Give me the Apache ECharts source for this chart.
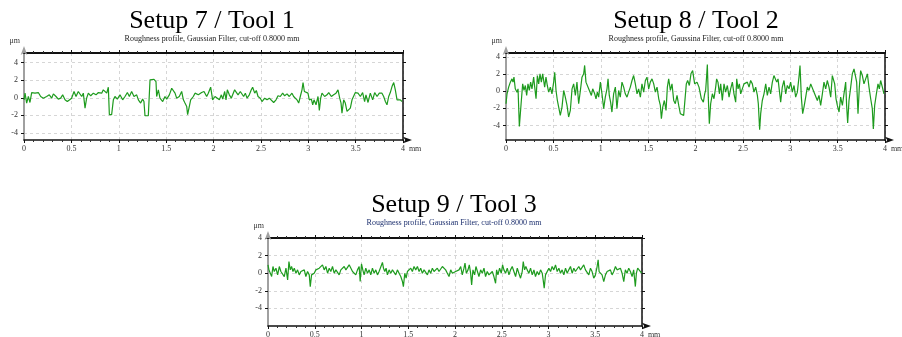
<!DOCTYPE html>
<html>
<head>
<meta charset="utf-8">
<script src="https://cdn.jsdelivr.net/npm/echarts@6/dist/echarts.min.js"></script>
<style>
html,body{margin:0;padding:0;background:#fff}
#main{width:902px;height:337px}
</style>
</head>
<body>
<div id="main"></div>
<script>
// profile 1 (Setup 7 / Tool 1), x in mm, y in um
var x1 = [0,0.011,0.028,0.046,0.063,0.081,0.116,0.151,0.176,0.204,0.239,0.267,0.292,0.310,0.338,0.362,0.387,0.408,0.433,0.457,0.478,0.503,0.528,0.549,0.573,0.591,0.609,0.626,0.644,0.661,0.679,0.704,0.732,0.760,0.785,0.820,0.837,0.855,0.873,0.890,0.901,0.925,0.943,0.960,0.985,1.013,1.041,1.066,1.091,1.112,1.136,1.161,1.189,1.207,1.231,1.252,1.266,1.277,1.312,1.330,1.347,1.372,1.393,1.400,1.418,1.435,1.464,1.488,1.506,1.534,1.559,1.576,1.594,1.611,1.639,1.664,1.682,1.699,1.717,1.727,1.745,1.759,1.787,1.805,1.840,1.875,1.900,1.928,1.945,1.970,1.991,2.016,
  2.037,2.062,2.083,2.097,2.118,2.132,2.146,2.167,2.188,2.202,2.223,2.237,2.259,2.283,2.301,2.318,2.336,2.354,2.378,2.399,2.413,2.435,2.452,2.470,2.494,2.512,2.540,2.565,2.589,2.610,2.635,2.660,2.681,2.705,2.730,2.751,2.776,2.800,2.828,2.846,2.864,2.881,2.899,2.916,2.934,2.945,2.959,2.976,2.997,3.011,3.033,3.047,3.061,3.082,3.103,3.117,3.131,3.145,3.173,3.198,3.216,3.244,3.268,3.293,3.314,3.332,3.346,3.356,3.374,3.391,3.409,3.427,3.444,3.462,3.479,3.497,3.525,3.550,3.574,3.595,3.609,3.631,3.655,3.680,3.701,3.726,3.750,3.778,3.796,3.814,3.831,3.849,3.866,3.884,3.902,3.919,3.937,3.954,3.972,3.989];
var y1 = [-0.23,0.53,-0.60,0.15,-0.53,0.60,0.53,0.60,0.15,-0.04,0.15,0.34,-0.04,0.45,0.15,-0.15,-0.04,0.34,-0.23,-0.42,-0.60,-0.04,0.72,0.15,0.72,0.53,0.15,0.53,-1.17,-0.04,0.53,0.23,0.53,0.34,0.60,0.53,0.91,1.09,0.53,1.21,-1.92,-1.92,-0.23,0.15,-0.15,0.34,-0.23,0.15,0.60,0.15,0.72,0.15,0.34,-0.23,-0.60,-0.15,-0.42,-2.04,-2.04,2.04,2.23,2.11,1.85,0.15,0.91,-0.04,-0.42,0.15,-0.15,0.34,1.09,1.28,0.53,-0.04,0.15,0.72,-0.23,-0.60,-0.98,-1.92,-0.98,-0.23,0.15,0.53,0.34,0.60,0.72,0.15,0.53,1.21,-0.23,0.15,
  0.15,-0.23,0.34,-0.15,0.72,-0.23,0.91,0.34,-0.04,0.15,0.91,1.09,0.34,0.72,0.53,0.15,0.53,-0.04,0.34,0.91,1.21,0.53,0.83,0.15,-0.04,-0.42,-0.04,-0.23,-0.04,-0.23,-0.53,-0.23,0.23,0.15,0.53,0.23,0.45,0.15,0.53,0.15,0.34,-0.23,-0.60,0.15,0.91,1.74,0.72,0.53,0.53,-0.23,-0.15,-0.79,-0.23,-0.79,0.15,-1.43,-0.04,0.53,0.15,0.34,0.60,0.15,0.34,0.53,0.91,-0.04,-0.60,-1.74,-0.23,-0.60,-1.55,-1.55,-1.17,-0.23,-0.04,0.60,0.53,0.15,0.60,-0.42,0.34,-0.53,0.53,-0.23,0.60,0.15,0.53,0.53,0.15,-0.42,-0.79,0.15,0.60,1.28,1.74,0.91,-0.23,-0.42,-0.23,-0.42];

// profile 2 (Setup 8 / Tool 2)
var x2 = [0,0.011,0.028,0.046,0.063,0.074,0.084,0.098,0.116,0.127,0.141,0.162,0.176,0.190,0.204,0.218,0.232,0.246,0.260,0.274,0.292,0.303,0.317,0.331,0.345,0.359,0.373,0.387,0.408,0.422,0.436,0.450,0.468,0.485,0.503,0.514,0.528,0.542,0.556,0.573,0.591,0.609,0.626,0.644,0.661,0.679,0.697,0.714,0.732,0.749,0.767,0.785,0.802,0.820,0.830,0.844,0.865,0.880,0.901,0.915,0.936,0.950,0.964,0.978,0.996,1.013,1.031,1.048,1.066,1.077,1.090,1.104,1.118,1.136,1.154,1.171,1.189,1.206,1.224,1.242,1.259,1.277,1.294,1.312,1.330,1.347,1.365,1.383,1.400,1.418,1.435,1.453,1.471,1.488,1.506,1.523,1.541,1.559,1.576,1.594,1.612,1.629,1.640,1.654,1.671,1.689,1.703,1.717,1.735,1.752,1.770,1.787,1.805,1.823,1.840,1.857,1.875,1.893,1.903,1.917,1.935,1.952,1.970,1.991,2.016,
  2.037,2.062,2.083,2.097,2.107,2.118,2.125,2.135,2.146,2.160,2.178,2.195,2.213,2.223,2.237,2.252,2.266,2.283,2.301,2.318,2.336,2.354,2.371,2.389,2.406,2.424,2.435,2.449,2.463,2.477,2.494,2.512,2.530,2.547,2.565,2.582,2.600,2.617,2.635,2.653,2.663,2.677,2.688,2.705,2.723,2.741,2.758,2.776,2.793,2.811,2.828,2.846,2.857,2.871,2.885,2.899,2.916,2.934,2.952,2.969,2.987,3.004,3.022,3.040,3.057,3.075,3.092,3.103,3.117,3.131,3.145,3.163,3.180,3.198,3.216,3.233,3.251,3.268,3.286,3.303,3.321,3.339,3.356,3.374,3.391,3.409,3.427,3.444,3.455,3.469,3.483,3.497,3.515,3.532,3.550,3.567,3.585,3.595,3.606,3.620,3.638,3.655,3.673,3.690,3.701,3.715,3.729,3.743,3.761,3.778,3.796,3.814,3.831,3.849,3.866,3.877,3.891,3.909,3.926,3.940,3.954,3.972,3.989];
var y2 = [-1.47,-0.31,0.47,1.05,1.43,1.05,1.63,0.27,-0.12,0.27,-4.11,-1.09,0.85,0.08,0.66,-0.50,0.85,0.08,1.05,0.27,1.63,0.47,-0.89,1.82,0.85,2.02,1.05,2.02,0.47,1.63,0.66,-0.12,0.47,-0.31,1.05,2.21,0.08,-1.09,-1.86,-2.83,-1.86,0.08,-0.70,-1.67,-3.02,-2.25,0.27,0.85,-0.50,1.05,-1.47,0.08,1.63,2.02,3.00,1.05,0.85,0.08,-0.50,0.27,-0.31,-0.89,-0.12,-0.70,1.05,-0.31,-2.05,-0.70,0.27,1.43,-0.50,-1.28,-2.44,-0.31,0.47,-2.05,0.08,-0.70,1.05,0.47,-0.31,-0.70,-0.12,0.47,1.24,1.82,0.85,-0.31,0.27,-0.70,0.85,-0.12,1.24,1.63,0.27,1.05,1.43,0.85,-0.12,0.47,-0.89,-1.67,-3.22,-1.86,-1.09,-2.25,0.47,1.43,0.08,0.85,-1.09,-1.47,-0.50,-1.67,-2.63,-2.83,-2.83,-2.83,0.85,1.24,0.66,2.02,2.40,0.85,1.05,
  0.47,-0.89,-1.28,-0.31,0.08,1.82,3.10,-0.70,-3.80,-1.47,-0.31,-0.89,0.47,1.43,1.05,-0.31,0.85,-1.09,0.85,-0.12,0.66,-0.70,0.27,1.05,-0.31,-1.28,1.43,0.27,0.85,-0.31,0.27,0.85,0.66,1.05,0.47,1.24,0.85,-0.12,0.47,-0.50,-1.47,-4.50,-2.63,-1.09,-0.31,0.85,-0.50,0.47,-0.31,1.05,1.82,2.02,1.05,1.43,0.08,-1.28,0.47,1.24,-0.31,0.66,0.27,1.05,-0.12,0.66,-0.70,-0.12,1.63,2.98,-0.70,-2.63,-1.86,-0.70,0.47,0.08,0.85,1.05,-0.12,-0.31,-1.09,-0.50,-1.67,-0.31,1.05,0.27,1.24,0.47,-0.70,1.82,2.02,0.85,-0.89,-1.67,-2.44,-0.70,-1.67,-0.31,1.05,-1.67,-3.72,-1.09,0.47,2.02,2.60,2.79,1.05,-2.63,0.47,2.40,1.82,0.85,1.43,2.02,0.47,-0.89,-2.05,-4.42,-1.67,-0.31,0.85,0.27,1.24,0.47,-0.31];

// profile 3 (Setup 9 / Tool 3)
var x3 = [0.000,0.010,0.025,0.039,0.053,0.067,0.085,0.103,0.121,0.138,0.156,0.174,0.192,0.210,0.224,0.238,0.252,0.267,0.281,0.299,0.316,0.334,0.352,0.370,0.388,0.405,0.423,0.441,0.452,0.466,0.480,0.494,0.512,0.530,0.548,0.566,0.583,0.601,0.619,0.637,0.655,0.672,0.690,0.708,0.726,0.744,0.761,0.779,0.797,0.815,0.833,0.850,0.868,0.886,0.904,0.922,0.939,0.957,0.975,0.986,1.000,1.014,1.028,1.046,1.064,1.082,1.099,1.117,1.135,1.153,1.171,1.188,1.206,1.224,1.235,1.249,1.263,1.277,1.295,1.313,1.331,1.349,1.366,1.384,1.402,1.420,1.438,1.448,1.463,1.477,1.491,1.509,1.527,1.544,1.562,1.580,1.598,1.616,1.633,1.651,1.669,1.687,1.705,1.722,1.740,1.758,1.776,1.794,1.811,1.829,1.847,1.865,1.883,1.900,1.918,1.936,1.954,1.972,1.989,2.007,
  2.043,2.061,2.078,2.096,2.107,2.121,2.139,2.153,2.167,2.178,2.192,2.210,2.224,2.238,2.256,2.274,2.292,2.310,2.327,2.345,2.363,2.381,2.399,2.416,2.434,2.445,2.459,2.477,2.495,2.509,2.523,2.541,2.559,2.577,2.594,2.612,2.630,2.648,2.666,2.683,2.701,2.719,2.730,2.744,2.758,2.772,2.790,2.808,2.826,2.844,2.861,2.879,2.897,2.915,2.933,2.943,2.954,2.968,2.986,3.004,3.022,3.039,3.057,3.075,3.093,3.111,3.128,3.146,3.164,3.182,3.200,3.217,3.235,3.253,3.271,3.288,3.306,3.324,3.342,3.360,3.377,3.395,3.413,3.431,3.449,3.466,3.484,3.502,3.520,3.531,3.541,3.555,3.573,3.591,3.609,3.627,3.644,3.662,3.680,3.698,3.716,3.733,3.751,3.769,3.787,3.805,3.822,3.840,3.858,3.876,3.894,3.911,3.929,3.940,3.954,3.968,3.983,3.997];
var y3 = [0.95,0.38,0.57,-0.38,0.76,0.19,0.57,-0.19,0.76,0.19,0.38,-0.38,0.57,-0.76,1.33,0.38,0.76,0.19,0.57,0.00,0.38,-0.19,0.19,0.00,0.38,-0.38,0.19,-0.19,-1.52,-0.19,-0.38,0.00,0.38,0.19,0.57,0.38,0.95,0.38,0.76,0.00,0.57,0.19,0.76,0.00,0.38,0.57,-0.19,0.38,0.19,0.76,0.38,0.57,0.95,0.76,0.19,0.38,-0.19,0.38,0.76,-0.95,1.07,0.38,-0.19,0.57,0.00,0.38,-0.19,0.57,0.00,0.38,-0.19,0.19,0.38,1.22,0.57,0.19,0.57,-0.19,0.38,0.00,0.38,0.19,-0.19,0.38,0.00,-0.38,-0.95,-1.52,0.00,-0.57,0.19,0.00,0.57,0.19,0.76,0.38,0.76,0.19,0.57,0.00,0.38,0.19,-0.19,0.38,0.00,0.57,0.19,0.38,0.57,0.19,0.38,0.76,0.95,0.38,0.00,-0.38,0.38,0.00,-0.19,0.19,
  0.38,0.76,-0.19,0.57,1.14,0.00,0.38,0.95,0.00,-1.33,0.38,-0.19,0.76,0.95,-0.38,0.38,0.00,0.57,-0.38,0.19,-0.19,0.00,0.19,-0.38,-1.14,0.38,-0.19,0.57,0.00,0.95,0.38,0.00,0.57,-0.19,0.38,0.76,0.19,-0.38,0.57,0.00,-0.57,0.19,1.33,0.38,0.76,0.38,0.00,0.57,-0.19,0.38,-0.38,0.19,-0.19,0.38,0.00,-0.76,-1.71,-0.19,0.00,0.57,0.19,0.76,0.38,0.95,0.19,0.57,0.00,0.38,-0.19,0.57,0.00,0.38,0.76,0.00,0.57,0.19,0.00,0.76,0.38,0.57,0.95,0.38,0.19,-0.19,0.57,0.19,-0.57,-0.19,0.76,1.52,0.19,0.38,-0.19,-0.95,-0.19,0.19,0.00,0.38,-0.19,0.19,0.76,0.38,0.19,0.57,0.00,-0.95,0.38,0.00,0.57,0.19,-0.38,0.38,-1.52,0.00,0.57,0.38,0.19,0.00];

var yTicks = [-4, -2, 0, 2, 4];
var titles = ['Setup 7 / Tool 1', 'Setup 8 / Tool 2', 'Setup 9 / Tool 3'];
var subtitles = [
  'Roughness profile, Gaussian Filter, cut-off 0.8000 mm',
  'Roughness profile, Gaussina Filter, cut-off 0.8000 mm',
  'Roughness profile, Gaussian Filter, cut-off 0.8000 mm'
];

var myChart = echarts.init(document.getElementById('main'));

var serif = 'Liberation Serif';
var plots = [
  {grid: {left: 24, top: 53, width: 379, height: 87}, ymin: -4.8, ymax: 5.1, title: [212, 21], sub: [212, 39], subColor: '#222'},
  {grid: {left: 506, top: 53, width: 379, height: 87}, ymin: -5.7, ymax: 4.45, title: [696, 21], sub: [696, 39], subColor: '#222'},
  {grid: {left: 268, top: 238, width: 374, height: 88}, ymin: -6, ymax: 4, title: [454, 205], sub: [454, 223], subColor: '#1c2f6e'}
];
var xs = [x1, x2, x3], ys = [y1, y2, y3];

var grid = [], xAxis = [], yAxis = [], series = [], graphic = [];
plots.forEach(function (p, i) {
  grid.push(Object.assign({outerBoundsMode: 'none', containLabel: false}, p.grid));
  // bottom axis with labels
  xAxis.push({
    gridIndex: i, type: 'value', min: 0, max: 4, interval: 0.5, position: 'bottom',
    axisLine: {onZero: false, lineStyle: {color: '#111', width: 1.5},
      symbol: ['none', 'arrow'], symbolSize: [5, 9], symbolOffset: [0, 9]},
    axisTick: {show: true, length: 3, lineStyle: {color: '#111'}},
    minorTick: {show: true, splitNumber: 5, length: 2, lineStyle: {color: '#333'}},
    axisLabel: {fontFamily: serif, fontSize: 8, color: '#333', margin: 5},
    splitLine: {show: true, lineStyle: {type: [3, 3], color: '#d6d6d6', width: 1}},
    name: 'mm', nameLocation: 'end', nameGap: 4,
    nameTextStyle: {fontFamily: serif, fontSize: 8, color: '#333', verticalAlign: 'top', padding: [5, 0, 0, 0]}
  });
  // top frame
  xAxis.push({
    gridIndex: i, type: 'value', min: 0, max: 4, interval: 0.5, position: 'top',
    axisLine: {onZero: false, lineStyle: {color: '#111', width: 2}},
    axisTick: {show: true, length: 3, lineStyle: {color: '#111'}},
    minorTick: {show: true, splitNumber: 5, length: 2, lineStyle: {color: '#333'}},
    axisLabel: {show: false}, splitLine: {show: false}
  });
  yAxis.push({
    gridIndex: i, type: 'value', min: p.ymin, max: p.ymax, position: 'left',
    axisLine: {onZero: false, lineStyle: {color: '#a0a0a0', width: 2},
      symbol: ['none', 'arrow'], symbolSize: [5, 9], symbolOffset: [0, 7]},
    axisTick: {show: true, customValues: yTicks, length: 3, lineStyle: {color: '#111'}},
    axisLabel: {customValues: yTicks, fontFamily: serif, fontSize: 8, color: '#333', margin: 6},
    splitLine: {show: true, lineStyle: {type: [3, 3], color: '#d6d6d6', width: 1}},
    name: 'μm', nameLocation: 'end', nameGap: 8,
    nameTextStyle: {fontFamily: serif, fontSize: 8, color: '#333', align: 'right', padding: [0, 4, 0, 0]}
  });
  // right frame
  yAxis.push({
    gridIndex: i, type: 'value', min: p.ymin, max: p.ymax, position: 'right',
    axisLine: {show: true, onZero: false, lineStyle: {color: '#111', width: 1.5}},
    axisTick: {show: true, customValues: yTicks, length: 3, lineStyle: {color: '#111'}},
    axisLabel: {show: false}, splitLine: {show: false}
  });
  series.push({
    type: 'line', xAxisIndex: i * 2, yAxisIndex: i * 2,
    data: xs[i].map(function (x, k) { return [x, ys[i][k]]; }),
    showSymbol: false, symbol: 'none', silent: true,
    lineStyle: {color: '#1e9b1e', width: 1.2}
  });
  graphic.push({
    type: 'text', x: p.title[0], y: p.title[1],
    style: {text: titles[i], font: '26px "Liberation Serif"', fill: '#000', textAlign: 'center', textVerticalAlign: 'middle'}
  });
  graphic.push({
    type: 'text', x: p.sub[0], y: p.sub[1],
    style: {text: subtitles[i], font: '8px "Liberation Serif"', fill: p.subColor, textAlign: 'center', textVerticalAlign: 'middle'}
  });
});

myChart.setOption({
  animation: false,
  backgroundColor: '#fff',
  grid: grid,
  xAxis: xAxis,
  yAxis: yAxis,
  series: series,
  graphic: graphic
});
</script>
</body>
</html>
